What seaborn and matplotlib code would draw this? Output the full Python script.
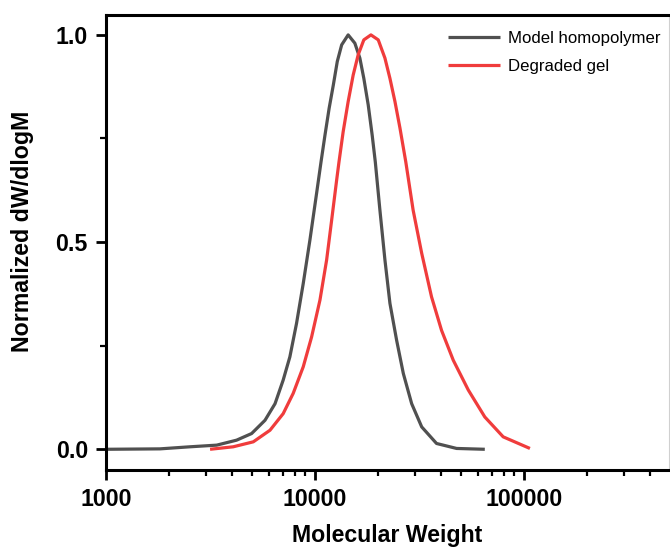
import numpy as np
import pandas as pd
import matplotlib
matplotlib.use("Agg")
import matplotlib.pyplot as plt
import seaborn as sns
from matplotlib.ticker import LogLocator, FixedLocator, NullFormatter

# ---- data ----
homo_mw = [1000, 1811, 2523, 3388, 4217, 4977, 5768, 6442, 7047, 7586, 8166,
           8790, 9462, 10186, 10691, 11169, 11695, 12246, 12794, 13428, 14421,
           15524, 16406, 17140, 17989, 18793, 19454, 20464, 21627, 22856,
           24604, 26485, 29040, 32434, 38194, 47643, 65013]
homo_val = [0.000, 0.001, 0.006, 0.010, 0.022, 0.038, 0.070, 0.110, 0.167,
            0.223, 0.304, 0.400, 0.505, 0.618, 0.693, 0.758, 0.823, 0.879,
            0.936, 0.976, 1.000, 0.980, 0.944, 0.895, 0.831, 0.758, 0.693,
            0.577, 0.457, 0.352, 0.263, 0.183, 0.110, 0.054, 0.014, 0.002,
            0.000]

gel_mw = [3148, 4064, 5070, 6095, 7047, 7870, 8790, 9638, 10568, 11376, 12023,
          12706, 13032, 13646, 14421, 15241, 16106, 17140, 18535, 20091, 21627,
          22856, 24155, 25527, 27227, 29512, 32434, 36141, 40365, 45920, 54200,
          65013, 79616, 106905]
gel_val = [0.000, 0.006, 0.018, 0.046, 0.086, 0.135, 0.199, 0.271, 0.360,
           0.457, 0.553, 0.650, 0.693, 0.766, 0.839, 0.903, 0.952, 0.988,
           1.000, 0.988, 0.944, 0.895, 0.839, 0.775, 0.693, 0.577, 0.473,
           0.368, 0.287, 0.215, 0.143, 0.078, 0.030, 0.002]

series_names = ["Model homopolymer", "Degraded gel"]
series_colors = ["#505050", "#f03c3c"]

x_ticks = [1000, 10000, 100000]
x_ticklabels = ["1000", "10000", "100000"]
y_ticks = [0.0, 0.5, 1.0]
y_ticklabels = ["0.0", "0.5", "1.0"]

df = pd.concat([
    pd.DataFrame({"mw": homo_mw, "val": homo_val, "series": series_names[0]}),
    pd.DataFrame({"mw": gel_mw, "val": gel_val, "series": series_names[1]}),
], ignore_index=True)

sns.set_theme(style="ticks")
plt.rcParams["font.family"] = ["Liberation Sans", "DejaVu Sans"]
plt.rcParams["text.color"] = "black"
plt.rcParams["axes.labelcolor"] = "black"
plt.rcParams["xtick.color"] = "black"
plt.rcParams["ytick.color"] = "black"

fig = plt.figure(figsize=(6.7, 5.5), dpi=100)
ax = fig.add_axes([106 / 670, 1 - 470 / 550, (669 - 106) / 670, (470 - 15) / 550])

sns.lineplot(data=df, x="mw", y="val", hue="series", hue_order=series_names,
             palette=series_colors, linewidth=2.3, sort=False, ax=ax,
             estimator=None, solid_joinstyle="round", solid_capstyle="butt")

ax.set_xscale("log")
ax.set_xlim(1000, 495000)
ax.set_ylim(-0.05, 1.048)

ax.xaxis.set_major_locator(FixedLocator(x_ticks))
ax.set_xticklabels(x_ticklabels)
ax.xaxis.set_minor_locator(LogLocator(base=10, subs=np.arange(2, 10)))
ax.xaxis.set_minor_formatter(NullFormatter())
ax.set_yticks(y_ticks)
ax.set_yticklabels(y_ticklabels)
ax.yaxis.set_minor_locator(FixedLocator([0.25, 0.75]))

for lab in ax.get_xticklabels() + ax.get_yticklabels():
    lab.set_fontweight("bold")
    lab.set_fontsize(16.7)
    lab.set_color("black")

ax.tick_params(axis="both", which="major", direction="out", length=7, width=2,
               color="black", pad=6)
ax.tick_params(axis="both", which="minor", direction="out", length=4, width=1.6,
               color="black")
ax.tick_params(axis="x", which="major", pad=6)

for side in ["left", "bottom", "top"]:
    ax.spines[side].set_linewidth(2.2)
    ax.spines[side].set_color("black")
ax.spines["right"].set_linewidth(0.8)
ax.spines["right"].set_color("#d0d0d0")

ax.set_xlabel("Molecular Weight", fontsize=16.7, fontweight="bold", labelpad=9,
              color="black")
ax.set_ylabel("Normalized dW/dlogM", fontsize=16.7, fontweight="bold",
              color="black")
ax.yaxis.set_label_coords(-0.128, 0.525)

leg = ax.legend(loc="upper right", bbox_to_anchor=(1.0 + 7 / 563, 1.0),
                frameon=False, fontsize=12.1, handlelength=3.1,
                handletextpad=0.45, labelspacing=0.75, borderaxespad=0.55)
for line in leg.get_lines():
    line.set_linewidth(2.3)
for t in leg.get_texts():
    t.set_color("black")

fig.savefig("out.png", dpi=100)
